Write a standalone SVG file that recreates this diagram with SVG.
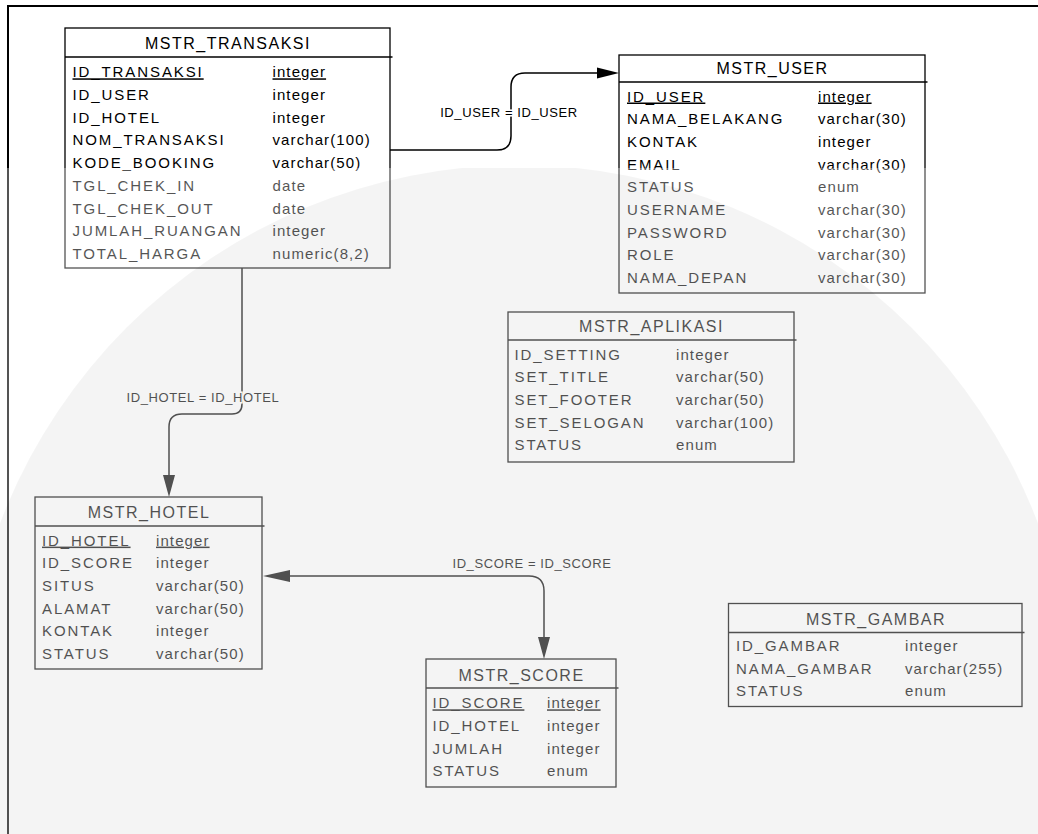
<svg xmlns="http://www.w3.org/2000/svg" width="1038" height="834" viewBox="0 0 1038 834">
<style>
.box{fill:#fff;stroke:#000;stroke-width:1.3}
.sep{stroke:#000;stroke-width:1.3}
text{font-family:"Liberation Sans",Arial,sans-serif;fill:#000}
.ttl{font-size:16px;letter-spacing:1.5px;text-anchor:middle}
.c{font-size:15px;letter-spacing:1.9px}
.ty{font-size:15px;letter-spacing:1.1px}
.pk{text-decoration:underline}
.lbl{font-size:13px;letter-spacing:0.6px;text-anchor:middle;paint-order:stroke;stroke:#fff;stroke-width:3px}
.conn{fill:none;stroke:#000;stroke-width:1.5}
.ah{fill:#000}
</style>
<defs>
<clipPath id="wm"><rect x="0" y="168" width="1038" height="666"/></clipPath>
</defs>
<rect width="1038" height="834" fill="#fff"/>
<path d="M8 834 V6 H1038" fill="none" stroke="#000" stroke-width="2"/>

<g id="connectors">
<path class="conn" d="M390 150 H497 Q511 150 511 136 V87 Q511 73 525 73 H600"/>
<polygon class="ah" points="597,67.5 619,73 597,78.5"/>
<path class="conn" d="M242 268 V404 Q242 414 232 414 H182 Q169 414 169 427 V478"/>
<polygon class="ah" points="163,475 169,497 175,475"/>
<path class="conn" d="M286 576 H529 Q544 576 544 591 V638"/>
<polygon class="ah" points="290,570 263,576 290,582"/>
<polygon class="ah" points="538,637 544,659 550,637"/>
<text class="lbl" x="509" y="116.5">ID_USER = ID_USER</text>
<text class="lbl" x="203" y="402.3">ID_HOTEL = ID_HOTEL</text>
<text class="lbl" x="532" y="568">ID_SCORE = ID_SCORE</text>
</g>

<g id="MSTR_TRANSAKSI">
<rect class="box" x="65" y="28" width="325" height="240"/>
<line class="sep" x1="65" y1="57" x2="392.5" y2="57"/>
<text class="ttl" x="228" y="49.3">MSTR_TRANSAKSI</text>
<text class="c pk" x="72.5" y="77.3">ID_TRANSAKSI</text><text class="ty pk" x="272.5" y="77.3">integer</text>
<text class="c" x="72.5" y="100">ID_USER</text><text class="ty" x="272.5" y="100">integer</text>
<text class="c" x="72.5" y="122.7">ID_HOTEL</text><text class="ty" x="272.5" y="122.7">integer</text>
<text class="c" x="72.5" y="145.4">NOM_TRANSAKSI</text><text class="ty" x="272.5" y="145.4">varchar(100)</text>
<text class="c" x="72.5" y="168.1">KODE_BOOKING</text><text class="ty" x="272.5" y="168.1">varchar(50)</text>
<text class="c" x="72.5" y="190.8">TGL_CHEK_IN</text><text class="ty" x="272.5" y="190.8">date</text>
<text class="c" x="72.5" y="213.5">TGL_CHEK_OUT</text><text class="ty" x="272.5" y="213.5">date</text>
<text class="c" x="72.5" y="236.2">JUMLAH_RUANGAN</text><text class="ty" x="272.5" y="236.2">integer</text>
<text class="c" x="72.5" y="258.9">TOTAL_HARGA</text><text class="ty" x="272.5" y="258.9">numeric(8,2)</text>
</g>

<g id="MSTR_USER">
<rect class="box" x="619" y="55" width="306" height="238"/>
<line class="sep" x1="619" y1="82" x2="927.5" y2="82"/>
<text class="ttl" x="772.5" y="74.3">MSTR_USER</text>
<text class="c pk" x="627" y="101.5">ID_USER</text><text class="ty pk" x="818" y="101.5">integer</text>
<text class="c" x="627" y="124.2">NAMA_BELAKANG</text><text class="ty" x="818" y="124.2">varchar(30)</text>
<text class="c" x="627" y="146.9">KONTAK</text><text class="ty" x="818" y="146.9">integer</text>
<text class="c" x="627" y="169.6">EMAIL</text><text class="ty" x="818" y="169.6">varchar(30)</text>
<text class="c" x="627" y="192.3">STATUS</text><text class="ty" x="818" y="192.3">enum</text>
<text class="c" x="627" y="215">USERNAME</text><text class="ty" x="818" y="215">varchar(30)</text>
<text class="c" x="627" y="237.7">PASSWORD</text><text class="ty" x="818" y="237.7">varchar(30)</text>
<text class="c" x="627" y="260.4">ROLE</text><text class="ty" x="818" y="260.4">varchar(30)</text>
<text class="c" x="627" y="283.1">NAMA_DEPAN</text><text class="ty" x="818" y="283.1">varchar(30)</text>
</g>

<g id="MSTR_APLIKASI">
<rect class="box" x="508" y="312" width="286" height="150"/>
<line class="sep" x1="508" y1="340" x2="796.5" y2="340"/>
<text class="ttl" x="651.5" y="332.3">MSTR_APLIKASI</text>
<text class="c" x="514.5" y="359.5">ID_SETTING</text><text class="ty" x="676" y="359.5">integer</text>
<text class="c" x="514.5" y="382.2">SET_TITLE</text><text class="ty" x="676" y="382.2">varchar(50)</text>
<text class="c" x="514.5" y="404.9">SET_FOOTER</text><text class="ty" x="676" y="404.9">varchar(50)</text>
<text class="c" x="514.5" y="427.6">SET_SELOGAN</text><text class="ty" x="676" y="427.6">varchar(100)</text>
<text class="c" x="514.5" y="450.3">STATUS</text><text class="ty" x="676" y="450.3">enum</text>
</g>

<g id="MSTR_HOTEL">
<rect class="box" x="35" y="497" width="227" height="172"/>
<line class="sep" x1="35" y1="526" x2="264.5" y2="526"/>
<text class="ttl" x="149" y="518.3">MSTR_HOTEL</text>
<text class="c pk" x="42" y="545.6">ID_HOTEL</text><text class="ty pk" x="156" y="545.6">integer</text>
<text class="c" x="42" y="568.3">ID_SCORE</text><text class="ty" x="156" y="568.3">integer</text>
<text class="c" x="42" y="591">SITUS</text><text class="ty" x="156" y="591">varchar(50)</text>
<text class="c" x="42" y="613.7">ALAMAT</text><text class="ty" x="156" y="613.7">varchar(50)</text>
<text class="c" x="42" y="636.4">KONTAK</text><text class="ty" x="156" y="636.4">integer</text>
<text class="c" x="42" y="659.1">STATUS</text><text class="ty" x="156" y="659.1">varchar(50)</text>
</g>

<g id="MSTR_SCORE">
<rect class="box" x="426" y="659" width="190" height="128"/>
<line class="sep" x1="426" y1="688" x2="618.5" y2="688"/>
<text class="ttl" x="521.5" y="680.7">MSTR_SCORE</text>
<text class="c pk" x="432.5" y="708.3">ID_SCORE</text><text class="ty pk" x="547" y="708.3">integer</text>
<text class="c" x="432.5" y="731">ID_HOTEL</text><text class="ty" x="547" y="731">integer</text>
<text class="c" x="432.5" y="753.7">JUMLAH</text><text class="ty" x="547" y="753.7">integer</text>
<text class="c" x="432.5" y="776.4">STATUS</text><text class="ty" x="547" y="776.4">enum</text>
</g>

<g id="MSTR_GAMBAR">
<rect class="box" x="728.5" y="603.5" width="293.5" height="103"/>
<line class="sep" x1="728.5" y1="632.5" x2="1024.5" y2="632.5"/>
<text class="ttl" x="876" y="625">MSTR_GAMBAR</text>
<text class="c" x="736" y="651">ID_GAMBAR</text><text class="ty" x="905" y="651">integer</text>
<text class="c" x="736" y="673.7">NAMA_GAMBAR</text><text class="ty" x="905" y="673.7">varchar(255)</text>
<text class="c" x="736" y="696.4">STATUS</text><text class="ty" x="905" y="696.4">enum</text>
</g>

<g id="watermark" clip-path="url(#wm)">
<rect x="0" y="168" width="1038" height="666" fill="#fff" opacity="0.33"/>
<circle cx="519" cy="720" r="555" fill="#000" opacity="0.045"/>
</g>
</svg>
